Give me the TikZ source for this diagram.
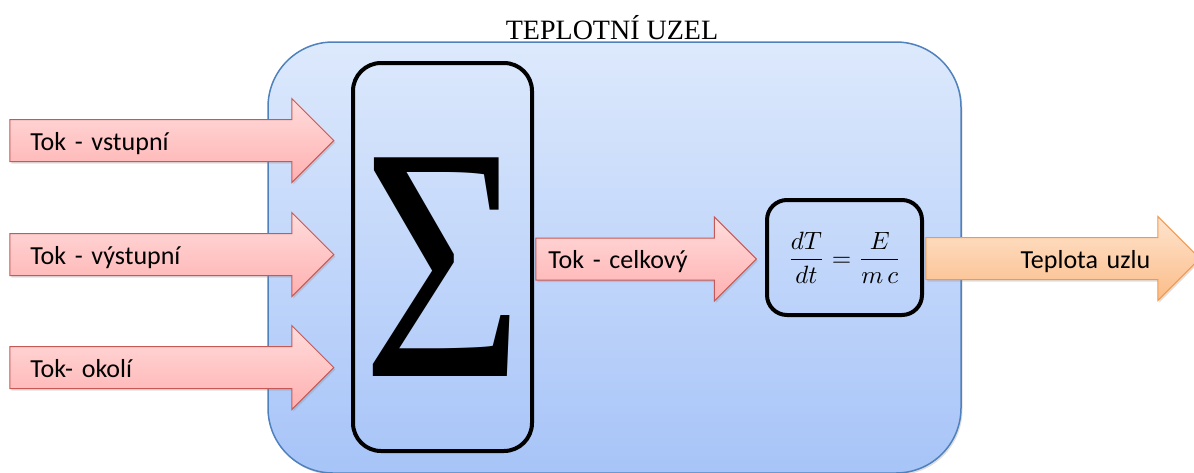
\documentclass[tikz,border=0pt]{standalone}
\usepackage{amsmath}
\usepackage{fontspec}
\setmainfont{Liberation Serif}
\newfontfamily\labelfont{Carlito}
\usetikzlibrary{shapes.arrows, positioning, shadows}
\definecolor{NodeBorder}{RGB}{79,129,189}
\definecolor{NodeTop}{RGB}{221,233,252}
\definecolor{NodeBottom}{RGB}{167,196,248}
\definecolor{FlowBorder}{RGB}{198,88,86}
\definecolor{FlowTop}{RGB}{255,220,220}
\definecolor{FlowBottom}{RGB}{255,176,176}
\definecolor{OutBorder}{RGB}{247,150,70}
\definecolor{OutTop}{RGB}{254,228,206}
\definecolor{OutBottom}{RGB}{251,188,136}
\tikzstyle{shade} = [drop shadow={shadow xshift=1.5pt, shadow yshift=-2pt, opacity=0.25}]
\tikzstyle{flow} = [single arrow, single arrow head extend=21pt, single arrow tip angle=90,
    line width=1pt, draw=FlowBorder, top color=FlowTop, bottom color=FlowBottom, shade,
    font=\labelfont\fontsize{26}{30}\selectfont, text height=30pt, text depth=11pt,
    inner ysep=0pt, inner xsep=20pt, text width=262pt, align=left, anchor=tip]
\tikzstyle{result} = [flow, draw=OutBorder, top color=OutTop, bottom color=OutBottom,
    inner xsep=28pt, text width=196pt, align=right]
\tikzstyle{block} = [draw, line width=4pt, rounded corners=28pt, inner sep=0pt]

\begin{document}
\begin{tikzpicture}[x=1pt, y=-1pt]
                \useasboundingbox (0,0) rectangle (1194,472);

                % the node itself
                \node[draw=NodeBorder, line width=1.5pt, top color=NodeTop, bottom color=NodeBottom,
                      rounded corners=65pt, minimum width=693pt, minimum height=431pt, shade]
                     (uzel) at (614.5,257.5) {};
                \node[anchor=base, font=\fontsize{28}{32}\selectfont] (title) at (612,39) {TEPLOTNÍ UZEL};

                % incoming flows
                \foreach \y/\txt/\name in {140.5/Tok - vstupní/vst, 254.5/Tok - výstupní/vys, 367.5/Tok- okolí/oko} {
                    \node[flow] (\name) at (334.5,\y) {\txt};
                }

                \node[block, minimum width=179pt, minimum height=388pt] (sumbox) at (442.5,257) {};
                \node[inner sep=0pt, font=\fontsize{334}{334}\selectfont] (sigma) at (443,267.5) {\scalebox{0.83}[1]{Σ}};

                \node[flow, inner xsep=12pt, text width=174.5pt] (celk) at (757,259) {Tok - celkový};

                \node[block, rounded corners=20pt, minimum width=155pt, minimum height=115pt] (eqbox) at (844.5,257.5)
                     {\scalebox{2.5}{$\dfrac{dT}{dt}=\dfrac{E}{m\,c}$}};

                % output leaves the page on the right
                \node[result] (teplota) at (1200.5,258.5) {Teplota uzlu};
            \end{tikzpicture}
\end{document}
